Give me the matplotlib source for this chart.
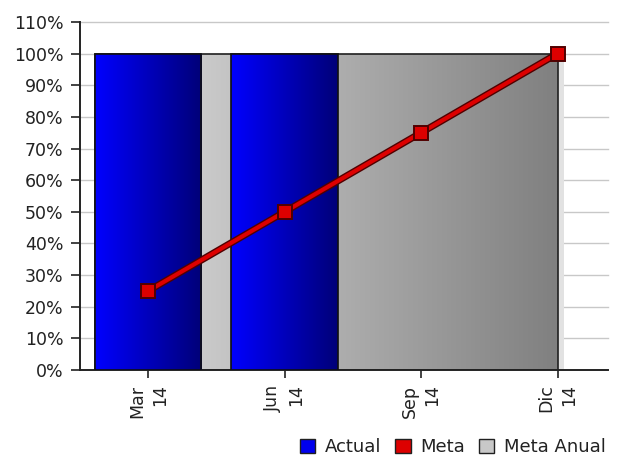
import numpy as np
import matplotlib
matplotlib.use("Agg")
import matplotlib.pyplot as plt
from matplotlib.patches import Patch, Rectangle, Polygon
from matplotlib.colors import LinearSegmentedColormap

categories = ["Mar\n14", "Jun\n14", "Sep\n14", "Dic\n14"]
actual = [100, 100, None, None]
meta = [25, 50, 75, 100]
meta_anual = [100, 100, 100, 100]
yticks = list(range(0, 111, 10))

plt.rcParams['font.family'] = ['DejaVu Sans']
fig = plt.figure(figsize=(6.23, 4.59), dpi=100)
ax = fig.add_axes([80/623, 1-370/459, (608-80)/623, (370-22)/459])
ax.set_xlim(-0.5, 3.37)
ax.set_ylim(0, 110)

x = np.arange(len(categories))
bw = 0.78

# grid
for v in yticks[1:]:
    ax.axhline(v, color='#c8c8c8', lw=1.0, zorder=0, clip_on=False)

# Meta Anual area (gray gradient)
x0 = x[0] - bw/2
x1 = x[-1]
ytop = max(meta_anual)
# shadow
ax.add_patch(Rectangle((x1, 0), 0.05, ytop - 1.5, facecolor='#e2e2e2', edgecolor='none', zorder=1))
xs = [x0] + list(x[:])
ys = [meta_anual[0]] + list(meta_anual)
gray_cmap = LinearSegmentedColormap.from_list('g', ['#e0e0e0', '#808080'])
grad = np.linspace(0, 1, 256).reshape(1, -1)
im = ax.imshow(grad, extent=[x0, x1, 0, ytop], aspect='auto', cmap=gray_cmap, zorder=2, interpolation='bilinear')
poly = Polygon(list(zip(xs, ys)) + [[x1, 0], [x0, 0]], closed=True, facecolor='none', edgecolor='#202020', lw=1.2, zorder=2.1)
ax.add_patch(poly)
im.set_clip_path(poly)

# Actual bars with blue gradient
blue_cmap = LinearSegmentedColormap.from_list('b', ['#0000ff', '#000078'])
for xi, v in zip(x, actual):
    if v is None:
        continue
    rect = Rectangle((xi - bw/2, 0), bw, v, facecolor='none', edgecolor='#101010', lw=1.2, zorder=3.1)
    ax.add_patch(rect)
    imb = ax.imshow(grad, extent=[xi - bw/2, xi + bw/2, 0, v], aspect='auto', cmap=blue_cmap, zorder=3, interpolation='bilinear')
    imb.set_clip_path(rect)

# Meta line
ax.plot(x, meta, color='#500000', lw=5.0, zorder=4, solid_capstyle='butt')
ax.plot(x, meta, color='#dd0000', lw=3.0, zorder=4.1, marker='s', markersize=9.5,
        markerfacecolor='#dd0000', markeredgecolor='#500000', markeredgewidth=1.4)

ax.set_xticks(x)
ax.set_xticklabels(categories, rotation=90, ha='center', va='top', multialignment='right',
                   fontsize=12.5, color='#222222', linespacing=1.35)
ax.set_yticks(yticks)
ax.set_yticklabels([f"{v}%" for v in yticks], fontsize=12.5, color='#222222')
ax.tick_params(axis='y', length=6.5, width=1.2, color='#222222', pad=5.5)
ax.tick_params(axis='x', length=5.5, width=1.2, color='#222222', pad=5)
for s in ['top', 'right']:
    ax.spines[s].set_visible(False)
for s in ['left', 'bottom']:
    ax.spines[s].set_color('#222222')
    ax.spines[s].set_linewidth(1.4)

handles = [Patch(facecolor='#0000ee', edgecolor='#202020', label='Actual'),
           Patch(facecolor='#dd0000', edgecolor='#202020', label='Meta'),
           Patch(facecolor='#c8c8c8', edgecolor='#202020', label='Meta Anual')]
fig.legend(handles=handles, loc='lower right', bbox_to_anchor=(0.99, -0.018), ncol=3, frameon=False,
           fontsize=13, handlelength=0.85, handleheight=0.85, handletextpad=0.55, columnspacing=0.75,
           labelcolor='#222222', borderaxespad=0.2)

fig.savefig("out.png", dpi=100)
